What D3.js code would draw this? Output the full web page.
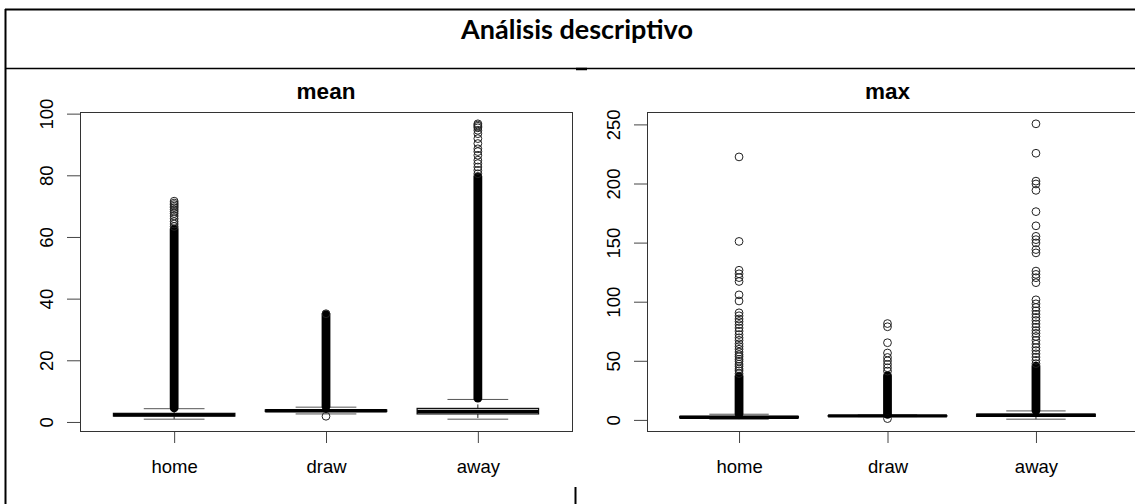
<!DOCTYPE html>
<html>
<head>
<meta charset="utf-8">
<script src="https://cdn.jsdelivr.net/npm/d3@7"></script>
<style>
  html, body { margin: 0; padding: 0; background: #fff; }
  svg { display: block; }
</style>
</head>
<body>
<svg id="chart" width="1135" height="504"></svg>
<script>
// ---- data ---------------------------------------------------------------
const groups = ["home", "draw", "away"];
const pageTitle = "Análisis descriptivo";
const panelTitles = ["mean", "max"];
const yTicksMean = [0, 20, 40, 60, 80, 100];
const yTicksMax = [0, 50, 100, 150, 200, 250];

// five-number summaries: lower whisker, Q1, median, Q3, upper whisker
const meanStats = [
  [0.9, 1.9, 2.3, 2.8, 4.3],
  [2.6, 3.4, 3.65, 3.9, 4.8],
  [0.9, 2.6, 3.4, 4.4, 7.3]
];
// value ranges where the outlier circles overlap into a solid column
const meanDense = [
  [4.6, 62.6],
  [5.0, 34.8],
  [7.7, 79.6]
];
// individually visible outliers
const meanOutHome = [63.4, 64.2, 65.0, 65.9, 66.8, 67.6, 68.3, 68.9, 69.5, 70.0, 70.5, 71.0, 71.6];
const meanOutDraw = [1.85, 35.1];
const meanOutAway = [80.5, 81.6, 82.7, 83.8, 84.9, 86.5, 87.7, 88.6, 90.3, 91.9, 93.5, 94.6, 95.4, 95.9, 96.3, 96.7];

const maxStats = [
  [0.6, 1.8, 2.3, 2.9, 4.8],
  [2.8, 3.2, 3.4, 3.6, 4.2],
  [0.6, 3.0, 3.9, 4.8, 7.6]
];
const maxDense = [
  [5.2, 37.0],
  [4.6, 37.4],
  [8.0, 45.5]
];
const maxOutHome = [39.2, 41.5, 43.1, 45.4, 47.2, 49.6, 51.3, 53.5, 55.2, 57.4, 59.8, 62.1, 64.4, 67.3,
  69.5, 72.2, 75.1, 77.8, 80.6, 83.2, 85.4, 88.1, 90.6, 100.6, 105.8, 117.1, 120.4, 123.6, 126.6, 151.0, 222.5];
const maxOutDraw = [1.1, 41.3, 44.1, 47.0, 50.0, 52.8, 56.6, 65.3, 78.8, 81.5];
const maxOutAway = [47.6, 50.4, 53.1, 55.9, 58.7, 61.2, 64.1, 67.3, 70.6, 73.2, 75.6, 78.4, 81.2, 84.1,
  86.7, 89.4, 92.3, 95.1, 98.2, 101.6, 116.1, 120.3, 123.1, 125.9, 141.3, 144.1, 149.7, 152.5, 155.3,
  164.2, 176.2, 194.2, 199.6, 202.0, 225.6, 250.5];

// ---- drawing ------------------------------------------------------------
const svg = d3.select("#chart");
const FONT = "'Liberation Sans', Arial, sans-serif";

// table frame around the two figures
const frame = svg.append("g").attr("stroke", "#000").attr("fill", "none");
frame.append("line").attr("x1", 5).attr("x2", 1135).attr("y1", 9.5).attr("y2", 9.5).attr("stroke-width", 2);
frame.append("line").attr("x1", 5.5).attr("x2", 5.5).attr("y1", 9).attr("y2", 504).attr("stroke-width", 2);
frame.append("line").attr("x1", 5).attr("x2", 1135).attr("y1", 68.5).attr("y2", 68.5).attr("stroke-width", 1.5);
frame.append("line").attr("x1", 575.5).attr("x2", 575.5).attr("y1", 487).attr("y2", 504).attr("stroke-width", 2);
frame.append("line").attr("x1", 576).attr("x2", 587).attr("y1", 69).attr("y2", 69).attr("stroke-width", 2.5);

svg.append("text")
  .attr("x", 577).attr("y", 39)
  .attr("text-anchor", "middle")
  .attr("font-family", "Lato, 'Open Sans', sans-serif")
  .attr("font-weight", 700)
  .attr("font-size", 27)
  .text(pageTitle);

function drawPanel(cfg) {
  const g = svg.append("g");
  const top = 112, bottom = 431;

  const x = d3.scaleLinear().domain([0.38, 3.62]).range([cfg.left, cfg.right]);
  const allVals = [...cfg.stats.flat(), ...cfg.dense.flat(), ...cfg.outliers.flat()];
  const [lo, hi] = d3.extent(allVals);
  const pad = (hi - lo) * 0.04;
  const y = d3.scaleLinear().domain([lo - pad, hi + pad]).range([bottom, top]);

  // title
  g.append("text")
    .attr("x", (cfg.left + cfg.right) / 2).attr("y", 99)
    .attr("text-anchor", "middle")
    .attr("font-family", FONT).attr("font-weight", 700).attr("font-size", 22.5)
    .text(cfg.title);

  // y axis
  const ya = g.append("g").attr("transform", `translate(${cfg.left},0)`)
    .call(d3.axisLeft(y).tickValues(cfg.ticks).tickSize(13).tickFormat(d3.format("d")));
  ya.select(".domain").remove();
  ya.selectAll(".tick line").attr("stroke", "#444");
  ya.selectAll(".tick text")
    .attr("transform", "rotate(-90)")
    .attr("x", 0).attr("y", -27).attr("dy", 0)
    .attr("text-anchor", "middle")
    .attr("fill", "#000")
    .attr("font-family", FONT).attr("font-size", 18.5);

  // x axis
  const xa = g.append("g").attr("transform", `translate(0,${bottom})`)
    .call(d3.axisBottom(x).tickValues([1, 2, 3]).tickSize(12).tickFormat((d) => groups[d - 1]));
  xa.select(".domain").remove();
  xa.selectAll(".tick line").attr("stroke", "#444");
  xa.selectAll(".tick text")
    .attr("y", 42).attr("dy", 0)
    .attr("fill", "#000")
    .attr("font-family", FONT).attr("font-size", 18.5);

  const bw = (x(1.4) - x(1)); // half box width (0.8 wide boxes)
  const sw = bw / 2;           // half staple width

  groups.forEach((name, i) => {
    const cx = x(i + 1);
    const [wl, q1, med, q3, wu] = cfg.stats[i];
    const bg = g.append("g");

    // dashed whiskers
    bg.append("line").attr("x1", cx).attr("x2", cx).attr("y1", y(q3)).attr("y2", y(wu))
      .attr("stroke", "#222").attr("stroke-dasharray", "4,3");
    bg.append("line").attr("x1", cx).attr("x2", cx).attr("y1", y(q1)).attr("y2", y(wl))
      .attr("stroke", "#222").attr("stroke-dasharray", "4,3");
    // staples
    [wl, wu].forEach((v) => {
      bg.append("line").attr("x1", cx - sw).attr("x2", cx + sw).attr("y1", y(v)).attr("y2", y(v))
        .attr("stroke", "#555").attr("stroke-width", 1);
    });
    // box
    bg.append("rect")
      .attr("x", cx - bw).attr("width", 2 * bw)
      .attr("y", y(q3)).attr("height", Math.max(0.5, y(q1) - y(q3)))
      .attr("fill", "#fff").attr("stroke", "#111").attr("stroke-width", 1.2);

    // dense run of overlapping outliers
    const [d0, d1] = cfg.dense[i];
    bg.append("line").attr("x1", cx).attr("x2", cx).attr("y1", y(d0)).attr("y2", y(d1))
      .attr("stroke", "#000").attr("stroke-width", 8.8).attr("stroke-linecap", "round");

    // individual outliers
    bg.selectAll("circle.out").data(cfg.outliers[i]).join("circle")
      .attr("class", "out")
      .attr("cx", cx).attr("cy", (d) => y(d)).attr("r", 3.9)
      .attr("fill", "none").attr("stroke", "#222").attr("stroke-width", 1);

    // median
    bg.append("line").attr("x1", cx - bw).attr("x2", cx + bw).attr("y1", y(med)).attr("y2", y(med))
      .attr("stroke", "#000").attr("stroke-width", 3.4);
  });

  // plot frame (right side may run past the page edge)
  const frameRight = cfg.frameRight || cfg.right;
  g.append("rect")
    .attr("x", cfg.left + 0.5).attr("y", top + 0.5)
    .attr("width", frameRight - cfg.left).attr("height", bottom - top)
    .attr("fill", "none").attr("stroke", "#333").attr("stroke-width", 1);
}

drawPanel({
  title: panelTitles[0], left: 80, right: 572, ticks: yTicksMean,
  stats: meanStats, dense: meanDense, outliers: [meanOutHome, meanOutDraw, meanOutAway]
});
drawPanel({
  title: panelTitles[1], left: 647, right: 1128, frameRight: 1140, ticks: yTicksMax,
  stats: maxStats, dense: maxDense, outliers: [maxOutHome, maxOutDraw, maxOutAway]
});
</script>
</body>
</html>
